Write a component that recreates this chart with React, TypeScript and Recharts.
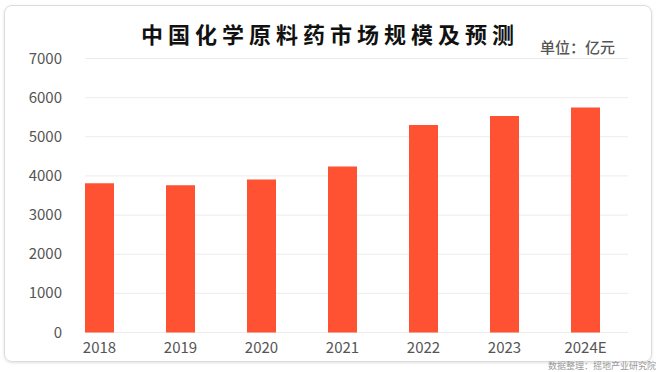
import { BarChart, Bar, XAxis, YAxis, CartesianGrid } from 'recharts'

const years = ['2018', '2019', '2020', '2021', '2022', '2023', '2024E']
const marketSize = [3810, 3760, 3910, 4240, 5300, 5530, 5750]
const yTicks = [0, 1000, 2000, 3000, 4000, 5000, 6000, 7000]

const data = years.map((year, i) => ({ year, value: marketSize[i] }))

const FONT = '"Noto Sans CJK SC", "Noto Sans", sans-serif'

function YTick(props: any) {
  const { x, y, payload } = props
  return (
    <text
      x={x + 11}
      y={y}
      dy={5}
      textAnchor="end"
      fontSize={15}
      fill="#555"
      fontFamily={FONT}
    >
      {payload.value}
    </text>
  )
}

function GridLine(props: any) {
  const { x1, x2, y1, y2 } = props
  return <line x1={x1 + 26} x2={x2 + 2} y1={y1} y2={y2} stroke="#ececec" strokeWidth={1} />
}

export default function App() {
  return (
    <div
      style={{
        position: 'absolute',
        left: 0,
        top: 0,
        width: 660,
        height: 372,
        background: '#fff',
        fontFamily: FONT,
        overflow: 'hidden',
      }}
    >
      <div
        style={{
          position: 'absolute',
          left: 4,
          top: 5,
          width: 646,
          height: 355,
          border: '1px solid #dcdcdc',
          borderRadius: 8,
          boxShadow: '0 1px 3px rgba(0,0,0,0.12)',
        }}
      />
      <div
        style={{
          position: 'absolute',
          left: 2,
          width: 656,
          top: 17,
          textAlign: 'center',
          fontSize: 22,
          fontWeight: 700,
          letterSpacing: 5,
          color: '#111',
        }}
      >
        中国化学原料药市场规模及预测
      </div>
      <div
        style={{
          position: 'absolute',
          left: 540,
          top: 36,
          fontSize: 15,
          fontWeight: 500,
          color: '#555',
        }}
      >
        单位：亿元
      </div>
      <div
        style={{
          position: 'absolute',
          right: 4,
          top: 359,
          fontSize: 9,
          color: '#999',
        }}
      >
        数据整理：摇地产业研究院
      </div>
      <div style={{ position: 'absolute', left: 0, top: 0 }}>
        <BarChart
          width={660}
          height={372}
          data={data}
          margin={{ top: 58.5, right: 34, bottom: 9.5, left: 9 }}
        >
          <CartesianGrid vertical={false} horizontal={GridLine} />
          <XAxis
            dataKey="year"
            axisLine={false}
            tickLine={false}
            height={30}
            tickMargin={4}
            tick={{ fontSize: 15, fill: '#555', fontFamily: FONT }}
            interval={0}
          />
          <YAxis
            width={50}
            domain={[0, 7000]}
            ticks={yTicks}
            axisLine={false}
            tickLine={false}
            tick={YTick}
            interval={0}
          />
          <Bar dataKey="value" fill="#FF5233" barSize={29} isAnimationActive={false} />
        </BarChart>
      </div>
    </div>
  )
}
